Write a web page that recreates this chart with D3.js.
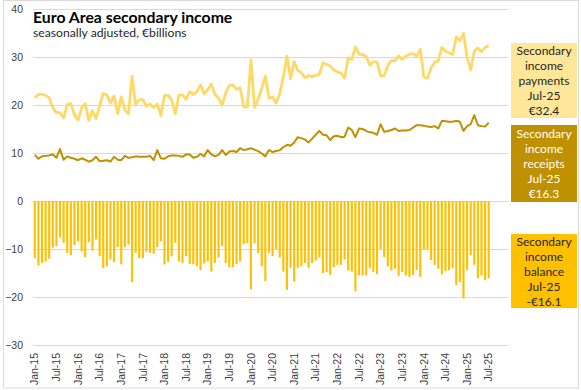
<!DOCTYPE html>
<html>
<head>
<meta charset="utf-8">
<script src="https://cdn.jsdelivr.net/npm/d3@7"></script>
<style>
  html, body { margin: 0; padding: 0; background: #fff; }
  svg { display: block; }
</style>
</head>
<body>
<svg id="chart" width="581" height="390"></svg>
<script>
// ---- data (monthly, Jan-15 .. Jul-25), € billions ----
const startMonth = "2015-01";
const axisEndMonth = "2025-12";
const tickLabels = ["Jan-15","Jul-15","Jan-16","Jul-16","Jan-17","Jul-17","Jan-18","Jul-18",
  "Jan-19","Jul-19","Jan-20","Jul-20","Jan-21","Jul-21","Jan-22","Jul-22","Jan-23","Jul-23",
  "Jan-24","Jul-24","Jan-25","Jul-25"];
const yTicks = [-30, -20, -10, 0, 10, 20, 30, 40];

const payments = [
  21.5,22.2,22.2,22.0,21.5,19.4,18.4,18.4,17.3,20.1,20.3,18.0,
  16.9,19.4,20.3,16.8,18.8,17.2,19.8,22.4,22.1,20.4,21.9,18.2,
  21.7,19.0,18.1,26.0,20.1,21.1,21.1,19.8,20.2,19.5,20.2,17.8,
  22.0,22.0,21.0,18.2,22.0,22.1,21.2,22.8,22.2,22.8,24.2,22.3,
  23.2,24.4,22.2,21.4,20.0,22.5,24.1,24.2,23.3,23.6,19.6,19.6,
  29.4,19.5,21.2,23.5,26.0,21.4,21.7,20.4,22.4,25.9,30.2,25.5,
  29.0,27.2,26.7,25.7,26.1,25.9,26.2,26.4,28.8,28.5,28.1,27.3,
  26.9,26.6,25.6,29.8,29.5,32.1,30.6,30.5,30.1,28.3,29.0,29.0,
  26.0,26.1,28.2,29.3,29.2,30.2,29.5,30.2,30.6,30.7,30.2,31.6,
  25.8,25.6,27.7,28.9,29.2,32.0,31.2,30.9,30.5,34.2,33.4,34.9,
  30.0,27.3,31.2,31.9,31.1,32.0,32.4
];
const receipts = [
  9.6,8.8,9.3,9.4,9.5,9.7,9.0,10.8,8.6,9.3,9.0,8.8,
  8.5,8.9,8.6,8.2,8.5,9.2,8.3,8.4,8.5,8.2,9.2,8.6,
  8.5,9.4,9.0,9.1,9.3,9.2,9.2,9.2,9.4,8.5,10.6,8.9,
  8.8,9.3,9.5,9.5,9.4,9.2,9.7,9.7,9.0,9.2,9.8,9.3,
  10.6,9.7,9.3,9.6,10.6,9.6,10.3,10.4,10.2,11.0,10.6,10.8,
  11.0,10.7,10.4,9.9,9.3,10.6,10.2,10.4,10.6,11.2,11.7,11.5,
  12.2,13.3,13.1,12.8,12.2,13.0,13.8,14.6,13.8,13.7,12.7,13.5,
  13.6,13.3,13.4,15.3,14.8,13.3,15.1,15.0,14.6,14.3,14.2,13.8,
  16.0,14.4,14.6,14.8,15.1,14.6,14.7,14.7,14.8,15.3,15.8,15.8,
  15.7,15.5,15.4,15.6,15.1,16.7,16.6,16.5,16.5,16.7,16.5,14.6,
  15.6,16.0,17.9,15.8,15.6,15.5,16.3
];
const balance = [
  -11.9,-13.4,-12.9,-12.6,-12.0,-9.7,-9.4,-7.6,-8.7,-10.8,-11.3,-9.2,
  -8.4,-10.5,-11.7,-8.6,-10.3,-8.0,-11.5,-14.0,-13.6,-12.2,-12.7,-9.6,
  -13.2,-9.6,-9.1,-16.9,-10.8,-11.9,-11.9,-10.6,-10.8,-11.0,-9.6,-8.4,
  -13.2,-12.7,-11.5,-8.7,-12.6,-12.9,-11.5,-13.1,-13.2,-13.6,-14.4,-13.0,
  -12.6,-14.7,-12.9,-11.8,-9.4,-12.9,-13.8,-13.8,-13.1,-12.6,-9.0,-8.8,
  -18.4,-8.8,-10.8,-13.6,-16.7,-10.8,-11.5,-10.0,-11.8,-14.7,-18.5,-14.0,
  -16.8,-13.9,-13.6,-12.9,-13.9,-12.9,-12.4,-11.8,-15.0,-14.8,-15.4,-13.8,
  -13.3,-13.3,-12.2,-14.5,-14.7,-18.8,-15.5,-15.5,-15.5,-14.0,-14.8,-15.2,
  -10.0,-11.7,-13.6,-14.5,-14.1,-15.6,-14.8,-15.5,-15.8,-15.4,-14.4,-15.8,
  -10.1,-10.1,-12.3,-13.3,-14.1,-15.3,-14.6,-14.4,-14.0,-17.5,-16.9,-20.3,
  -14.4,-11.3,-13.3,-16.1,-15.5,-16.5,-16.1
];
const boxes = [
  {lines: ["Secondary","income","payments","Jul-25","€32.4"], fill: "#FFE699", text: "#262626"},
  {lines: ["Secondary","income","receipts","Jul-25","€16.3"], fill: "#BF9000", text: "#ffffff"},
  {lines: ["Secondary","income","balance","Jul-25","-€16.1"], fill: "#FFC000", text: "#262626"}
];

// ---- layout ----
const svg = d3.select("#chart");
const plot = {left: 33, right: 508.5, top: 9, bottom: 345};

const parse = d3.timeParse("%Y-%m");
const fmt = d3.timeFormat("%b-%y");
const months = d3.timeMonth.range(parse(startMonth), d3.timeMonth.offset(parse(axisEndMonth), 1)).map(fmt);

const x = d3.scaleBand().domain(months).range([plot.left, plot.right]).padding(0);
const y = d3.scaleLinear().domain([-30, 40]).range([plot.bottom, plot.top]);

// outer border
svg.append("rect").attr("x", 3.5).attr("y", 0.5).attr("width", 575).attr("height", 387.5)
  .attr("fill", "#fff").attr("stroke", "#d9d9d9").attr("stroke-width", 1);

// gridlines
svg.append("g").selectAll("line").data(yTicks).join("line")
  .attr("x1", plot.left).attr("x2", plot.right)
  .attr("y1", d => Math.round(y(d)) + 0.5).attr("y2", d => Math.round(y(d)) + 0.5)
  .attr("stroke", "#d9d9d9").attr("stroke-width", 1);

// y axis labels
const yAxis = d3.axisLeft(y).tickValues(yTicks).tickSize(0).tickPadding(0);
const gy = svg.append("g").attr("transform", `translate(23,0)`).call(yAxis);
gy.select(".domain").remove();
gy.selectAll("text").attr("font-family", "'Liberation Sans', Arial, sans-serif")
  .attr("font-size", 10.5).attr("fill", "#404040");

// bars
const bw = x.bandwidth() * 0.6;
svg.append("g").selectAll("rect").data(balance).join("rect")
  .attr("x", (d, i) => x(months[i]) + (x.bandwidth() - bw) / 2)
  .attr("width", bw)
  .attr("y", d => y(Math.max(0, d)))
  .attr("height", d => Math.abs(y(d) - y(0)))
  .attr("fill", "#FFC000");

// lines
const line = d3.line().x((d, i) => x(months[i]) + x.bandwidth() / 2).y(d => y(d));
svg.append("path").datum(payments).attr("d", line)
  .attr("fill", "none").attr("stroke", "#FFD966").attr("stroke-width", 2.8).attr("stroke-linejoin", "round");
svg.append("path").datum(receipts).attr("d", line)
  .attr("fill", "none").attr("stroke", "#BF9000").attr("stroke-width", 2).attr("stroke-linejoin", "round");

// x axis labels
const xAxis = d3.axisBottom(x).tickValues(tickLabels).tickSize(0).tickPadding(0);
const gx = svg.append("g").attr("transform", `translate(0,${plot.bottom})`).call(xAxis);
gx.select(".domain").remove();
gx.selectAll("text")
  .attr("font-family", "'Liberation Sans', Arial, sans-serif").attr("font-size", 10.5).attr("fill", "#404040")
  .attr("transform", "rotate(-90)").attr("text-anchor", "end")
  .attr("x", -8).attr("y", 0).attr("dy", "0.35em");

// title
svg.append("text").attr("x", 33).attr("y", 23)
  .attr("font-family", "Lato, 'Liberation Sans', sans-serif").attr("font-weight", "bold")
  .attr("font-size", 15.8).attr("fill", "#000").text("Euro Area secondary income");
svg.append("text").attr("x", 33).attr("y", 36.5)
  .attr("font-family", "Lato, 'Liberation Sans', sans-serif")
  .attr("font-size", 12.2).attr("fill", "#262626").text("seasonally adjusted, €billions");

// right-hand boxes
const boxPos = [{y: 43, h: 75}, {y: 125, h: 77}, {y: 234, h: 74}];
const bg = svg.append("g").selectAll("g").data(boxes).join("g")
  .attr("transform", (d, i) => `translate(511,${boxPos[i].y})`);
bg.append("rect").attr("width", 66).attr("height", (d, i) => boxPos[i].h).attr("fill", d => d.fill);
bg.each(function(d, i) {
  const g = d3.select(this);
  const top = (boxPos[i].h - 75) / 2;
  g.selectAll("text").data(d.lines).join("text")
    .attr("x", 33).attr("y", (t, j) => top + 12 + j * 15)
    .attr("text-anchor", "middle")
    .attr("font-family", "Lato, 'Liberation Sans', sans-serif").attr("font-size", 12)
    .attr("fill", d.text).text(t => t);
});
</script>
</body>
</html>
